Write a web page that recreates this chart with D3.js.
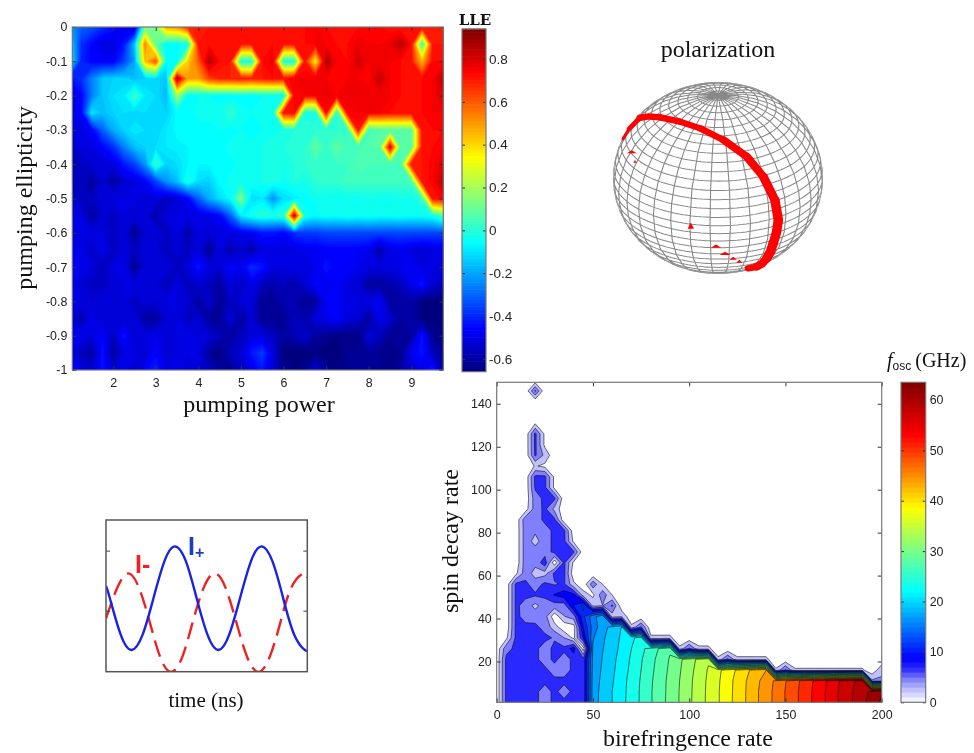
<!DOCTYPE html>
<html>
<head>
<meta charset="utf-8">
<script src="https://cdn.jsdelivr.net/npm/d3@7"></script>
<style>
body { margin: 0; background: white; }
svg { display: block; filter: blur(0.45px); }
.tick text { font-family: "Liberation Sans", sans-serif; font-size: 12.4px; fill: #222; }
.lab { font-family: "Liberation Serif", serif; fill: #111; text-anchor: middle; }
</style>
</head>
<body>
<svg width="974" height="753"></svg>
<script>
// top left map: largest Lyapunov exponent
const heatPower = d3.range(36).map(i => 1 + i * 0.25);
const heatEllipticity = d3.range(21).map(j => -j * 0.05);
const heatXTicks = [2, 3, 4, 5, 6, 7, 8, 9];
const heatYTicks = [0, -0.1, -0.2, -0.3, -0.4, -0.5, -0.6, -0.7, -0.8, -0.9, -1];
const lleTicks = [-0.6, -0.4, -0.2, 0, 0.2, 0.4, 0.6, 0.8];
const lleValues = [
  [-.2,-.3,-.32,-.38,-.42,-.48, -.55,.12,.15,.5,.52,.68, .72,.72,.72,.72,.74,.74, .74,.74,.74,.74,.74,.76, .74,.74,.74,.74,.74,.74, .72,.72,.74,.72,.72,.72],
  [-.1,-.38,-.45,-.5,-.5,-.42, -.15,.55,.1,-.05,-.05,-.02, .72,.74,.74,.74,.72,.72, .74,.74,.72,.72,.74,.76, .76,.74,.74,.78,.76,.76, .78,.86,.74,.02,.72,.72],
  [-.05,-.4,-.45,-.46,-.46,-.35, -.2,.45,.62,-.05,-.05,.42, .6,.87,.74,.72,-.02,-.02, .74,.78,-.02,-.02,.72,.35, .88,.76,.74,.82,.76,.76, .76,.74,.72,.45,.74,.74],
  [-.42,-.38,-.25,-.14,-.12,-.12, -.15,-.12,-.1,-.15,.86,.5, .5,.65,.7,.7,.72,.7, .72,.74,.72,.76,.76,.78, .76,.74,.76,.76,.74,.84, .76,.74,.74,.74,.76,.86],
  [-.5,-.45,-.25,-.14,-.1,-.08, .05,-.08,-.1,-.16,.2,-.05, -.04,-.04,-.05,-.05,-.05,-.05, -.04,-.04,-.05,.75,.76,.76, .78,.76,.78,.78,.78,.76, .76,.74,.74,.74,.76,.8],
  [-.5,-.45,-.08,-.15,-.12,-.1, -.12,-.1,-.12,-.12,-.05,-.05, -.03,-.03,-.03,.03,-.03,-.04, -.03,-.02,.72,.74,-.02,-.02, .74,0,.74,.76,.76,.76, .74,.74,.74,.74,.76,.76],
  [-.5,-.5,-.45,-.3,-.18,-.12, -.08,-.1,-.12,-.08,-.05,-.05, -.05,-.05,-.04,-.05,-.04,-.05, -.04,-.03,-.02,0,.02,.02, .02,.02,.03,.72,.05,.08, .08,.08,.08,.72,.74,.74],
  [-.55,-.5,-.5,-.45,-.38,-.25, -.15,-.12,-.1,-.08,-.07,-.06, -.06,-.04,-.05,-.03,-.04,-.03, -.02,0,0,.02,.02,.1, .03,.1,.05,.05,.08,.08, .8,.08,.08,.72,.74,.76],
  [-.55,-.55,-.52,-.52,-.5,-.42, -.35,-.22,.05,-.12,-.1,-.06, -.06,-.06,-.05,-.05,-.03,-.03, -.02,-.02,-.02,0,.02,.03, .03,.04,.04,.08,.06,.06, .06,.06,.72,.72,.75,.8],
  [-.55,-.55,-.6,-.52,-.6,-.52, -.5,-.45,-.35,-.22,-.15,0, -.1,-.12,-.05,-.03,-.02,-.03, -.02,0,-.03,0,-.02,.02, .03,.03,.05,.05,.05,.05, .05,.05,.06,.72,.75,.86],
  [-.52,-.55,-.55,-.5,-.5,-.5, -.5,-.52,-.5,-.55,-.52,-.45, -.3,-.18,-.1,-.05,.15,-.1, -.08,-.22,-.1,-.08,-.05,-.03, -.03,-.04,-.03,-.03,-.02,-.03, -.03,-.02,-.03,.03,.72,.75],
  [-.5,-.5,-.6,-.52,-.55,-.5, -.52,-.5,-.58,-.5,-.5,-.5, -.5,-.48,-.45,-.3,-.08,-.02, .02,0,.02,.82,-.02,-.05, -.03,-.04,-.02,-.04,-.02,-.04, -.04,-.03,-.04,-.04,-.02,.08],
  [-.48,-.5,-.5,-.5,-.55,-.5, -.62,-.52,-.5,-.55,-.5,-.58, -.5,-.52,-.5,-.5,-.48,-.46, -.42,-.42,-.45,-.38,-.36,-.36, -.34,-.34,-.34,-.34,-.34,-.34, -.34,-.34,-.34,-.34,-.34,-.34],
  [-.46,-.5,-.54,-.48,-.55,-.5, -.55,-.5,-.52,-.55,-.5,-.55, -.5,-.62,-.5,-.58,-.52,-.58, -.5,-.5,-.5,-.5,-.48,-.48, -.46,-.46,-.46,-.46,-.48,-.58, -.5,-.48,-.5,-.52,-.5,-.5],
  [-.46,-.48,-.5,-.55,-.5,-.48, -.62,-.5,-.52,-.5,-.55,-.5, -.42,-.5,-.52,-.45,-.48,-.38, -.42,-.5,-.5,-.48,-.5,-.48, -.42,-.46,-.45,-.48,-.5,-.5, -.5,-.48,-.46,-.5,-.5,-.5],
  [-.48,-.52,-.55,-.55,-.52,-.5, -.5,-.52,-.52,-.56,-.5,-.55, -.52,-.55,-.6,-.5,-.54,-.48, -.55,-.58,-.55,-.58,-.52,-.45, -.48,-.46,-.5,-.52,-.6,-.6, -.58,-.55,-.48,-.42,-.52,-.55],
  [-.46,-.5,-.52,-.5,-.52,-.5, -.55,-.5,-.52,-.5,-.5,-.52, -.6,-.52,-.62,-.55,-.52,-.5, -.62,-.62,-.58,-.58,-.62,-.6, -.46,-.46,-.5,-.5,-.5,-.45, -.6,-.6,-.58,-.65,-.65,-.65],
  [-.5,-.58,-.48,-.52,-.5,-.52, -.5,-.6,-.6,-.52,-.5,-.55, -.52,-.6,-.62,-.5,-.6,-.52, -.62,-.62,-.62,-.55,-.58,-.5, -.48,-.45,-.5,-.52,-.6,-.48, -.52,-.6,-.58,-.65,-.65,-.65],
  [-.46,-.48,-.5,-.45,-.55,-.42, -.52,-.5,-.48,-.52,-.5,-.48, -.5,-.52,-.55,-.6,-.55,-.5, -.5,-.55,-.6,-.56,-.52,-.6, -.62,-.64,-.64,-.64,-.5,-.55, -.62,-.62,-.6,-.42,-.62,-.64],
  [-.48,-.55,-.6,-.42,-.6,-.5, -.48,-.52,-.45,-.52,-.5,-.5, -.5,-.6,-.65,-.55,-.52,-.42, -.36,-.5,-.65,-.66,-.66,-.64, -.66,-.66,-.62,-.62,-.6,-.62, -.64,-.62,-.48,-.42,-.55,-.62],
  [-.42,-.5,-.52,-.42,-.52,-.46, -.55,-.45,-.4,-.5,-.48,-.52, -.5,-.55,-.6,-.62,-.55,-.48, -.42,-.52,-.62,-.64,-.62,-.5, -.6,-.64,-.62,-.62,-.6,-.62, -.64,-.6,-.52,-.48,-.4,-.6]
];

// bottom right map: oscillation frequency. Short rows are zero to the right.
const oscBirefringence = d3.range(41).map(i => i * 5);
const oscDecay = d3.range(31).map(j => 1 + j * 5);
const oscXTicks = [0, 50, 100, 150, 200];
const oscYTicks = [20, 40, 60, 80, 100, 120, 140];
const oscBarTicks = [0, 10, 20, 30, 40, 50, 60];
const oscValues = [
  [0,6.2,6.2,6.2,6.2,4.8,6.2,6.2,6.2,6.2, 17.4,19,20.4,21.9,23.4,24.9,26.5,28,29.5,31,32.6,34.1,35.6,37,38.6,40.1,41.6,43.2,44.7,46.2,47.8,49.3,50.8,52.3,53.8,55.4,56.9,58.3,59.8,61.3,62.8],
  [0,6.2,6.2,6.2,6.2,4.8,6.2,4.8,6.2,6.2, 17.3,19,20.4,21.8,23.4,24.9,26.5,28,29.4,31,32.6,34,35.6,37,38.6,40,41.6,43.2,44.7,46.2,47.8,49.3,50.8,52.3,53.8,55.4,56.9,58.2,59.5,60.8,62.2],
  [0,6.2,6.2,6.2,6.2,6.2,6.2,6.2,6.2,6.2, 17.2,18.8,20.2,21.7,23.3,24.8,26.4,27.9,29.4,30.9,32.5,34,35.5,36.9,38.5,40,41.5,43,44.5,46,47.6,49.1,50.6,52.1,53.6,55.2,56.7,58,59,4,4],
  [0,6.2,6.2,6.2,6.2,6.2,4.8,4.8,6.2,6.2, 17,18.6,20,21.5,23,24.6,26.2,27.7,29.2,30.7,32.3,33.8,35.3,36.7,38.2,39.6,41,42.5,43.5,1.8,6,1.8,1.8,1.8,1.8,1.8,1.8,1.8,1.8,0,3],
  [0,6.2,6.2,6.2,6.2,4.8,6.2,4.8,6.2,6.2, 16.8,18.4,19.8,21.3,22.8,24.4,26,27.5,29,30.5,32,33.5,34.8,2,6,2,2,2,2],
  [0,5,6.2,6.2,6.2,4.8,6.2,6.2,9,0.4, 16.5,18.2,19.5,21,22.5,24,25.5,27,28.5,2,6,2,2],
  [0,1,6.2,6.2,6.2,6.2,5.5,3.6,1,8, 16,18,19.2,20.8,22,23.5,2,2,2],
  [0,0,6.2,6.2,6.2,5,2.5,0,0.5,10, 15,17.5,19,20.5,2,6],
  [0,0,6.2,5,4.8,4.6,0,3.5,4.8,11.5, 15.5,17.5,2.5,3],
  [0,0,6.2,4.8,3,4.6,4.8,4.6,10,12.5, 3,3.5,6],
  [0,0,6.2,6.2,6,6.2,8,9,8.5,2.5, 1,5,1.5],
  [0,0,6.2,6.2,4.6,6.2,5.5,6,2,0, 5,1.5],
  [0,0,1,4.8,2.8,2.8,6.2,6.2,0],
  [0,0,0,4.8,4.2,7,0,6.2,1],
  [0,0,0,4.8,4.6,4.8,6.2,6.2,6],
  [0,0,0,4.8,2.8,4.8,6.2,6.2,1],
  [0,0,0,4.8,4,4.8,6.2,6.2],
  [0,0,0,5,4.6,6.2,6.2],
  [0,0,0,0.5,4.6,6.2,3],
  [0,0,0,0,4.8,6.2,6.2],
  [0,0,0,0,6,6.2,1],
  [0,0,0,0,6.2,6.2,1],
  [0,0,0,0,1.7,1],
  [0,0,0,0,6,3],
  [0,0,0,0,6.2,1],
  [0,0,0,0,6.2,1],
  [0,0,0,0,1.2],
  [],
  [],
  [0,0,0,0,6],
  []
];

// bottom left traces
const plusTime = [0,1.9,7.3,12.75,18.2,23.6,29,34.2,39.7,45,50.4,55.8,61.2,66.6,72,77.2,82.7,88,93.5,98.8,100];
const plusValues = [.41,.21,-.4,-.655,-.4,.21,.82,1.07,.82,.21,-.4,-.655,-.4,.21,.82,1.07,.82,.21,-.4,-.655,-.65];
const minusTime = [0,5.6,11,16.4,21.8,27,32.3,37.8,43,48.5,54,59.4,64.8,70.2,75.7,81.2,86.6,92,98,100];
const minusValues = [-.13,.38,.62,.38,-.2,-.78,-1.02,-.78,-.2,.38,.62,.38,-.2,-.78,-1.02,-.78,-.2,.38,.62,.55];

// polarization trail on the sphere, degrees
const trailLon = [-94.6,-96.6,-95.6,-70.6,-43.6,-15.6,9.4,25.9,33.7,38.2,39.7,38.6,39.7,42.9,30.2];
const trailLat = [23,30,40.7,55,60.6,60.3,53.4,41.4,27.5,11.7,-2.1,-19.9,-36.2,-53.6,-48.3];
const trailWidth = [3,5,7,7,6.5,7,8,8.5,9,9.5,9.5,9.5,8.5,7];
const speckLon = [-65.9,-57.7,-10.7,3.3,8.6,13.9,18.4,30.8];
const speckLat = [28.8,26,-1.8,-16,-22.8,-28.3,-32.7,-43.5];
const speckSize = [16,5,22,18,20,12,10,12];
const speckFlat = [1.6,1,0.9,1.6,1.6,1.4,1.3,1.6];

const svg = d3.select("svg");

// jet colormap for the LLE map
const lleColor = d3.scaleLinear()
    .domain([-0.66, -0.46, -0.06, 0.34, 0.74, 0.94])
    .range(["#00007f", "#0000ff", "#00ffff", "#ffff00", "#ff0000", "#7f0000"])
    .clamp(true);

// white to blue, then jet, for the frequency map
const oscColor = d3.scaleLinear()
    .domain([0, 2.5, 4.6, 6.7, 8.8, 22, 30.5, 38.5, 53, 63.5])
    .range(["#ffffff", "#c0c0ff", "#8080ff", "#2828ff", "#0000ff", "#00ffff", "#80ff80", "#ffff00", "#ff0000", "#800000"])
    .clamp(true);

let clipCount = 0;

// filled contours of a grid, mapped through the chart's scales
function contourMap(g, matrix, xs, ys, x, y, thresholds, fill, strokeColor) {
    const nx = xs.length, ny = ys.length;
    const flat = [];
    matrix.forEach(row => {
        for (let i = 0; i < nx; i++) flat.push(i < row.length ? row[i] : 0);
    });
    const dx = xs[1] - xs[0], dy = ys[1] - ys[0];
    const path = d3.geoPath(d3.geoTransform({
        point: function(cx, cy) {
            this.stream.point(x(xs[0] + (cx - 0.5) * dx), y(ys[0] + (cy - 0.5) * dy));
        }
    }));
    const id = "clip" + (clipCount++);
    svg.append("clipPath").attr("id", id).append("rect")
        .attr("x", x.range()[0]).attr("y", y.range()[1])
        .attr("width", x.range()[1] - x.range()[0])
        .attr("height", y.range()[0] - y.range()[1]);
    g.append("g").attr("clip-path", "url(#" + id + ")")
        .selectAll("path")
        .data(d3.contours().size([nx, ny]).thresholds(thresholds)(flat))
        .enter().append("path")
        .attr("d", path)
        .attr("fill", d => fill(d.value))
        .attr("stroke", strokeColor || (d => fill(d.value)))
        .attr("stroke-width", strokeColor ? 0.6 : 0.2);
}

// matlab style box: ticks point inwards on all four sides
function boxAxes(g, x, y, xTicks, yTicks, showLabels) {
    const [x0, x1] = x.range(), [y1, y0] = y.range();
    const fmt = d => showLabels ? String(d) : "";
    g.append("g").attr("transform", "translate(0," + y1 + ")")
        .call(d3.axisBottom(x).tickValues(xTicks).tickSizeInner(-4).tickSizeOuter(0).tickPadding(8).tickFormat(fmt));
    g.append("g").attr("transform", "translate(0," + y0 + ")")
        .call(d3.axisTop(x).tickValues(xTicks).tickSizeInner(-4).tickSizeOuter(0).tickFormat(""));
    g.append("g").attr("transform", "translate(" + x0 + ",0)")
        .call(d3.axisLeft(y).tickValues(yTicks).tickSizeInner(-4).tickSizeOuter(0).tickPadding(5).tickFormat(fmt));
    g.append("g").attr("transform", "translate(" + x1 + ",0)")
        .call(d3.axisRight(y).tickValues(yTicks).tickSizeInner(-4).tickSizeOuter(0).tickFormat(""));
    g.selectAll(".domain").remove();
    g.selectAll(".tick line").attr("stroke", "#333");
    g.append("rect")
        .attr("x", x0).attr("y", y0)
        .attr("width", x1 - x0).attr("height", y1 - y0)
        .attr("fill", "none").attr("stroke", "#777").attr("stroke-width", 1.2);
}

function colorBar(g, scale, color, ticks, steps, w, pad) {
    const [b0, b1] = scale.domain();
    const levels = d3.range(steps).map(i => b0 + (b1 - b0) * (i + 0.5) / steps);
    const h = Math.abs(scale(b1) - scale(b0)) / steps;
    g.selectAll(".band").data(levels).enter().append("rect")
        .attr("x", 0).attr("width", w)
        .attr("y", d => scale(d) - h / 2 - 0.3).attr("height", h + 0.6)
        .attr("fill", color);
    g.append("g").attr("transform", "translate(" + w + ",0)")
        .call(d3.axisRight(scale).tickValues(ticks).tickSizeInner(-3).tickSizeOuter(0).tickPadding(pad).tickFormat(d => String(d)));
    g.append("g")
        .call(d3.axisLeft(scale).tickValues(ticks).tickSizeInner(-3).tickSizeOuter(0).tickFormat(""));
    g.selectAll(".domain").remove();
    g.selectAll(".tick line").attr("stroke", "#333");
    g.append("rect").attr("width", w).attr("y", scale(b1)).attr("height", scale(b0) - scale(b1))
        .attr("fill", "none").attr("stroke", "#777").attr("stroke-width", 1.2);
}

//LLE map
const heatX = d3.scaleLinear().domain([1.04, 9.75]).range([72.3, 443.3]);
const heatY = d3.scaleLinear().domain([-1, 0]).range([370, 27]);
const heatG = svg.append("g");
heatG.append("rect").attr("x", 72.3).attr("y", 27).attr("width", 371).attr("height", 343).attr("fill", lleColor(-0.66));
contourMap(heatG, lleValues, heatPower, heatEllipticity, heatX, heatY, d3.range(-0.66, 0.95, 0.02), lleColor);
boxAxes(heatG, heatX, heatY, heatXTicks, heatYTicks, true);

const lleScale = d3.scaleLinear().domain([-0.66, 0.94]).range([371.7, 29]);
const lleBar = svg.append("g").attr("transform", "translate(462,0)");
colorBar(lleBar, lleScale, lleColor, lleTicks, 100, 24, 3);
lleBar.selectAll(".tick text").style("font-size", "13.5px");

svg.append("text").attr("class", "lab").attr("x", 475).attr("y", 25)
    .style("font-family", "'DejaVu Serif', serif").style("font-weight", "bold").style("font-size", "15px")
    .text("LLE");
svg.append("text").attr("class", "lab").attr("x", 259).attr("y", 412).style("font-size", "24px").text("pumping power");
svg.append("text").attr("class", "lab").attr("transform", "translate(32,198) rotate(-90)").style("font-size", "24px").text("pumping ellipticity");

//sphere
svg.append("text").attr("class", "lab").attr("x", 718).attr("y", 57).style("font-size", "24px").text("polarization");

const projection = d3.geoOrthographic().scale(104.5).translate([0, 0]).rotate([-4.4, -30]);
const spherePath = d3.geoPath().projection(projection);
const sphereG = svg.append("g").attr("transform", "translate(718,178) scale(1,0.914)");
sphereG.append("path")
    .attr("d", spherePath(d3.geoGraticule().extent([[-180, -90], [180, 90]]).step([11.25, 5.625])()))
    .attr("fill", "none").attr("stroke", "#888").attr("stroke-width", 1.1);
sphereG.append("path")
    .attr("d", spherePath({type: "Sphere"}))
    .attr("fill", "none").attr("stroke", "#999").attr("stroke-width", 1);
sphereG.selectAll(".trail").data(trailWidth).enter().append("path")
    .attr("d", (d, i) => spherePath({type: "LineString", coordinates: [[trailLon[i], trailLat[i]], [trailLon[i + 1], trailLat[i + 1]]]}))
    .attr("fill", "none").attr("stroke", "#f00").attr("stroke-linecap", "round")
    .attr("stroke-width", d => d);
sphereG.selectAll(".speck").data(speckSize).enter().append("path")
    .attr("d", d => d3.symbol().type(d3.symbolTriangle).size(d)())
    .attr("transform", (d, i) => "translate(" + projection([speckLon[i], speckLat[i]]) + ") scale(" + speckFlat[i] + "," + (1 / speckFlat[i]) + ")")
    .attr("fill", "#f00");

//time traces
const timeX = d3.scaleLinear().domain([0, 100]).range([106, 307.3]);
const timeY = d3.scaleLinear().domain([-1.017, 1.51]).range([671.7, 520]);
const timeG = svg.append("g");
const timeLine = d3.line().x(d => timeX(d[0])).y(d => timeY(d[1])).curve(d3.curveNatural);
svg.append("clipPath").attr("id", "timeclip").append("rect").attr("x", 106).attr("y", 520).attr("width", 201.3).attr("height", 151.7);
const traces = timeG.append("g").attr("clip-path", "url(#timeclip)");
traces.append("path")
    .attr("d", timeLine(d3.zip(minusTime, minusValues)))
    .attr("fill", "none").attr("stroke", "#ee2222").attr("stroke-width", 2.4).attr("stroke-dasharray", "17,8");
traces.append("path")
    .attr("d", timeLine(d3.zip(plusTime, plusValues)))
    .attr("fill", "none").attr("stroke", "#1a22e6").attr("stroke-width", 2.4);
boxAxes(timeG, timeX, timeY, [], [0, 1], false);
timeG.selectAll(".tick line").attr("stroke", "#444");
timeG.select("rect").attr("stroke", "#555").attr("stroke-width", 1.5);

svg.append("text").attr("x", 188).attr("y", 555)
    .style("font-family", "'Liberation Sans', sans-serif").style("font-weight", "bold").style("font-size", "25px").attr("fill", "#1a3fc0")
    .text("I").append("tspan").attr("dy", 3).style("font-size", "16px").text("+");
svg.append("text").attr("x", 135).attr("y", 573)
    .style("font-family", "'Liberation Sans', sans-serif").style("font-weight", "bold").style("font-size", "25px").attr("fill", "#ee2222")
    .text("I-");
svg.append("text").attr("class", "lab").attr("x", 206).attr("y", 707).style("font-size", "21px").text("time (ns)");

//frequency map
const oscX = d3.scaleLinear().domain([0, 200]).range([496.7, 881.7]);
const oscY = d3.scaleLinear().domain([1, 150]).range([702.3, 382.3]);
const oscG = svg.append("g");
oscG.append("rect").attr("x", 496.7).attr("y", 382.3).attr("width", 385).attr("height", 320).attr("fill", "white");
contourMap(oscG, oscValues, oscBirefringence, oscDecay, oscX, oscY, d3.range(1.5, 63, 2.1), v => oscColor(v + 1), "#111");
boxAxes(oscG, oscX, oscY, oscXTicks, oscYTicks, true);

const oscBarScale = d3.scaleLinear().domain([0, 63.5]).range([702.3, 382.3]);
colorBar(svg.append("g").attr("transform", "translate(901,0)"), oscBarScale, oscColor, oscBarTicks, 64, 24.7, 4);

const fLabel = svg.append("text").attr("x", 887).attr("y", 367).style("font-family", "'Liberation Serif', serif").style("font-size", "20px").attr("fill", "#111");
fLabel.append("tspan").style("font-style", "italic").text("f");
fLabel.append("tspan").attr("dy", 3).style("font-size", "12px").style("font-family", "'Liberation Sans', sans-serif").text("osc");
fLabel.append("tspan").attr("dy", -3).attr("dx", 4).text("(GHz)");

svg.append("text").attr("class", "lab").attr("x", 688).attr("y", 746).style("font-size", "24px").text("birefringence rate");
svg.append("text").attr("class", "lab").attr("transform", "translate(458,541) rotate(-90)").style("font-size", "24px").text("spin decay rate");
</script>
</body>
</html>
